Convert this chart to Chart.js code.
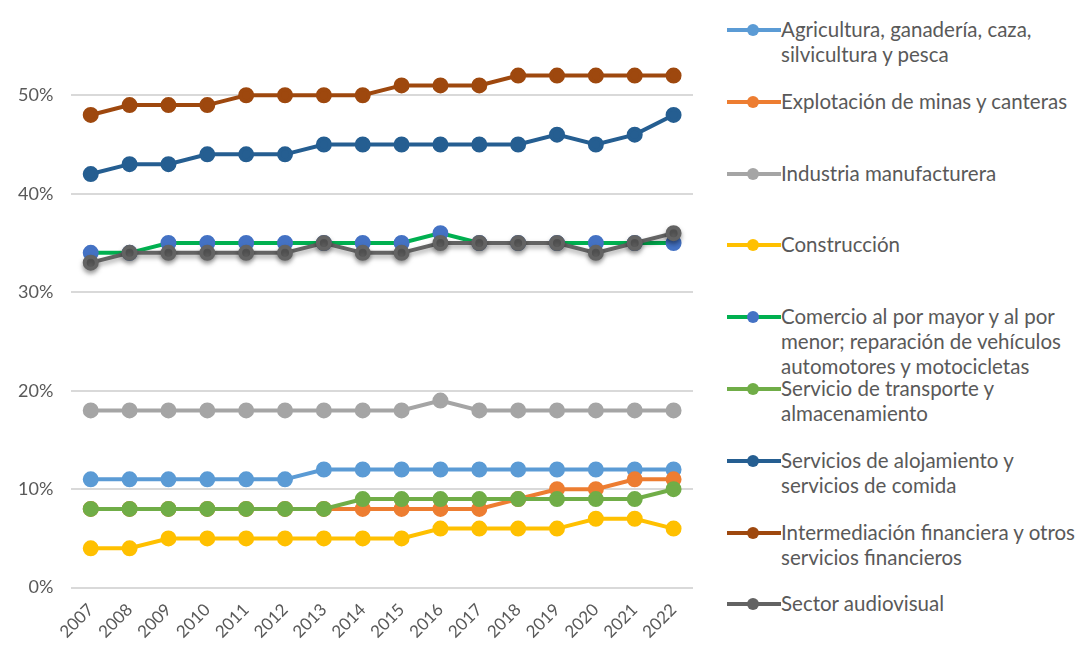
<!DOCTYPE html>
<html>
<head>
<meta charset="utf-8">
<script src="https://cdn.jsdelivr.net/npm/chart.js@4"></script>
<style>
  body { margin: 0; background: #fff; font-family: Lato, "Liberation Sans", sans-serif; }
  #wrap { position: relative; width: 1078px; height: 646px; }
  #box { position: absolute; left: 0; top: 0; width: 705px; height: 646px; }
  #legend { position: absolute; left: 727px; top: 0; width: 351px; height: 646px; }
  .item { position: absolute; left: 0; width: 351px; }
  .item svg { position: absolute; left: 0; top: 4px; }
  .item div { margin-left: 54px; font-size: 20.5px; line-height: 25px; color: #595959; white-space: nowrap; }
</style>
</head>
<body>
<div id="wrap">
  <div id="box"><canvas id="myChart"></canvas></div>
  <div id="legend"></div>
</div>
<script>
// share of employment by sector, percent
let years = ['2007','2008','2009','2010','2011','2012','2013','2014','2015','2016','2017','2018','2019','2020','2021','2022'];

let agricultura   = [11,11,11,11,11,11,12,12,12,12,12,12,12,12,12,12];
let explotacion   = [8,8,8,8,8,8,8,8,8,8,8,9,10,10,11,11];
let industria     = [18,18,18,18,18,18,18,18,18,19,18,18,18,18,18,18];
let construccion  = [4,4,5,5,5,5,5,5,5,6,6,6,6,7,7,6];
let comercio      = [34,34,35,35,35,35,35,35,35,36,35,35,35,35,35,35];
let transporte    = [8,8,8,8,8,8,8,9,9,9,9,9,9,9,9,10];
let alojamiento   = [42,43,43,44,44,44,45,45,45,45,45,45,46,45,46,48];
let intermediacion = [48,49,49,49,50,50,50,50,51,51,51,52,52,52,52,52];
let audiovisual   = [33,34,34,34,34,34,35,34,34,35,35,35,35,34,35,36];

let yTicks = [0,10,20,30,40,50];

let series = [
  { label: ['Agricultura, ganadería, caza,', 'silvicultura y pesca'], data: agricultura, line: '#5b9bd5', dot: '#5b9bd5' },
  { label: ['Explotación de minas y canteras'], data: explotacion, line: '#ed7d31', dot: '#ed7d31' },
  { label: ['Industria manufacturera'], data: industria, line: '#a5a5a5', dot: '#a5a5a5' },
  { label: ['Construcción'], data: construccion, line: '#ffc000', dot: '#ffc000' },
  { label: ['Comercio al por mayor y al por', 'menor; reparación de vehículos', 'automotores y motocicletas'], data: comercio, line: '#00b050', dot: '#4472c4' },
  { label: ['Servicio de transporte y', 'almacenamiento'], data: transporte, line: '#70ad47', dot: '#70ad47' },
  { label: ['Servicios de alojamiento y', 'servicios de comida'], data: alojamiento, line: '#255e91', dot: '#255e91' },
  { label: ['Intermediación financiera y otros', 'servicios financieros'], data: intermediacion, line: '#9e480e', dot: '#9e480e' },
  { label: ['Sector audiovisual'], data: audiovisual, line: '#636363', dot: '#636363' }
];

let shadow = {
  id: 'shadow',
  beforeDatasetDraw: (chart, args) => {
    if (args.index === 8) {
      chart.ctx.save();
      chart.ctx.shadowColor = 'rgba(0,0,0,0.35)';
      chart.ctx.shadowBlur = 5;
      chart.ctx.shadowOffsetY = 3;
    }
  },
  afterDatasetDraw: (chart, args) => {
    if (args.index === 8) chart.ctx.restore();
  }
};

let ctx = document.getElementById('myChart').getContext('2d');
let myChart = new Chart(ctx, {
  type: 'line',
  data: {
    labels: years,
    datasets: series.map((s, i) => ({
      label: s.label.join(' '),
      data: s.data,
      order: -i, // later series on top, like the original
      borderColor: s.line,
      backgroundColor: s.dot,
      pointBackgroundColor: s.dot,
      pointBorderColor: s.dot,
      borderWidth: 4,
      pointRadius: 6,
      tension: 0
    }))
  },
  plugins: [shadow],
  options: {
    responsive: true,
    maintainAspectRatio: false,
    animation: false,
    layout: { padding: { left: 0, top: 46, right: 12, bottom: 0 } },
    plugins: { legend: { display: false }, tooltip: { enabled: false } },
    scales: {
      x: {
        offset: true,
        grid: { display: false },
        border: { display: false },
        ticks: {
          color: '#595959',
          font: { family: 'Lato', size: 17 },
          minRotation: 45,
          maxRotation: 45,
          padding: 4
        }
      },
      y: {
        min: 0,
        max: 55,
        afterBuildTicks: (axis) => { axis.ticks = yTicks.map(v => ({ value: v })); },
        grid: { color: '#d9d9d9', lineWidth: 2, drawTicks: false },
        border: { display: false },
        ticks: {
          color: '#595959',
          padding: 18,
          font: { family: 'Lato', size: 18 },
          callback: (v) => v + '%'
        }
      }
    }
  }
});

// html legend, one block per series
let legend = document.getElementById('legend');
series.forEach((s, i) => {
  let item = document.createElement('div');
  item.className = 'item';
  item.style.top = (17 + i * 71.8) + 'px';
  item.innerHTML = '<svg width="54" height="18"><line x1="0" y1="9" x2="54" y2="9" stroke="' + s.line +
    '" stroke-width="4"/><circle cx="26" cy="9" r="6" fill="' + s.dot + '"/></svg><div>' + s.label.join('<br>') + '</div>';
  legend.appendChild(item);
});
</script>
</body>
</html>
